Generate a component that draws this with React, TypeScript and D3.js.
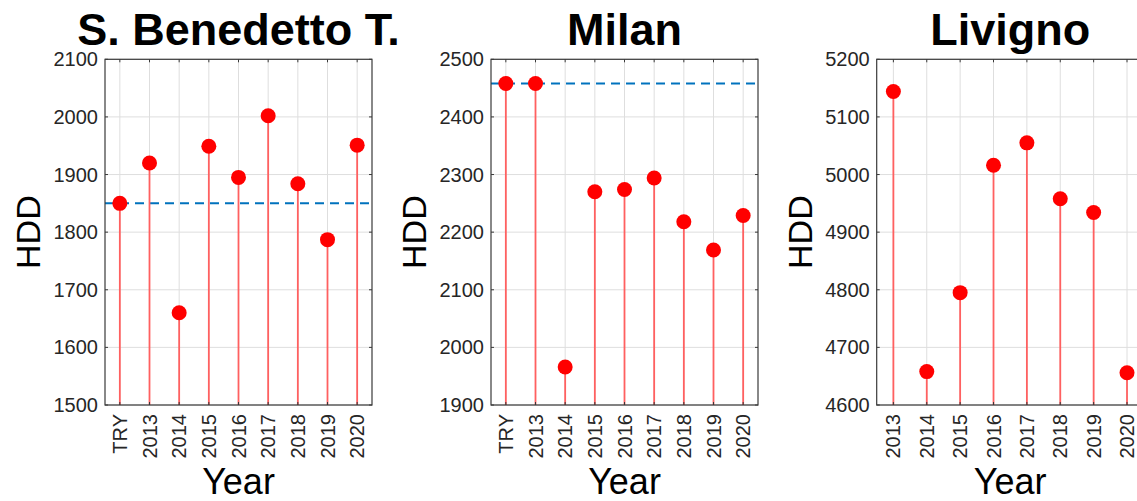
import * as React from "react";
import * as d3 from "d3";

// categories per panel
const catsWithTry = ["TRY", "2013", "2014", "2015", "2016", "2017", "2018", "2019", "2020"];
const catsYears = ["2013", "2014", "2015", "2016", "2017", "2018", "2019", "2020"];

// HDD values
const benedettoHdd = [1850, 1920, 1660, 1949, 1895, 2002, 1884, 1787, 1951];
const milanHdd = [2458, 2458, 1966, 2270, 2274, 2294, 2218, 2169, 2229];
const livignoHdd = [5144, 4658, 4795, 5016, 5055, 4958, 4934, 4656];

// y ticks per panel
const benedettoTicks = [1500, 1600, 1700, 1800, 1900, 2000, 2100];
const milanTicks = [1900, 2000, 2100, 2200, 2300, 2400, 2500];
const livignoTicks = [4600, 4700, 4800, 4900, 5000, 5100, 5200];

// TRY reference levels (dashed line)
const benedettoTry = 1850;
const milanTry = 2458;

const FONT = "Arial, 'Liberation Sans', Helvetica, sans-serif";

interface PanelProps {
  title: string;
  cats: string[];
  values: number[];
  ticks: number[];
  refLine?: number;
  left: number;
}

const top = 59.3;
const bottom = 405;
const plotW = 267;

const Panel: React.FC<PanelProps> = ({ title, cats, values, ticks, refLine, left }) => {
  const right = left + plotW;
  const x = d3
    .scaleLinear()
    .domain([0.5, cats.length + 0.5])
    .range([left, right]);
  const y = d3
    .scaleLinear()
    .domain([ticks[0], ticks[ticks.length - 1]])
    .range([bottom, top]);
  const cx = (left + right) / 2;
  const axisColor = "#3a3a3a";

  return (
    <g fontFamily={FONT}>
      {/* grid */}
      <g stroke="#dedede" strokeWidth={1}>
        {ticks.map((t) => (
          <line key={"gy" + t} x1={left} x2={right} y1={y(t)} y2={y(t)} />
        ))}
        {cats.map((c, i) => (
          <line key={"gx" + c} x1={x(i + 1)} x2={x(i + 1)} y1={top} y2={bottom} />
        ))}
      </g>
      {/* reference dashed line */}
      {refLine !== undefined && (
        <line
          x1={left}
          x2={right}
          y1={y(refLine)}
          y2={y(refLine)}
          stroke="#0072bd"
          strokeWidth={2}
          strokeDasharray="9,6"
        />
      )}
      {/* stems */}
      <g stroke="#ff6060" strokeWidth={1.8}>
        {values.map((v, i) => (
          <line key={"s" + i} x1={x(i + 1)} x2={x(i + 1)} y1={y(ticks[0])} y2={y(v)} />
        ))}
      </g>
      <g fill="#ff0000">
        {values.map((v, i) => (
          <circle key={"c" + i} cx={x(i + 1)} cy={y(v)} r={7.5} />
        ))}
      </g>
      {/* box */}
      <rect
        x={left}
        y={top}
        width={plotW}
        height={bottom - top}
        fill="none"
        stroke={axisColor}
        strokeWidth={1.2}
      />
      {/* ticks */}
      <g stroke={axisColor} strokeWidth={1}>
        {ticks.map((t) => (
          <g key={"t" + t}>
            <line x1={left} x2={left + 3} y1={y(t)} y2={y(t)} />
            <line x1={right} x2={right - 3} y1={y(t)} y2={y(t)} />
          </g>
        ))}
        {cats.map((c, i) => (
          <g key={"tx" + c}>
            <line x1={x(i + 1)} x2={x(i + 1)} y1={bottom} y2={bottom - 3} />
            <line x1={x(i + 1)} x2={x(i + 1)} y1={top} y2={top + 3} />
          </g>
        ))}
      </g>
      {/* y tick labels */}
      <g fontSize={20} fill="#262626" textAnchor="end">
        {ticks.map((t) => (
          <text key={"yl" + t} x={left - 7} y={y(t)} dy="0.35em">
            {t}
          </text>
        ))}
      </g>
      {/* x tick labels */}
      <g fontSize={20} fill="#262626" textAnchor="end">
        {cats.map((c, i) => (
          <text
            key={"xl" + c}
            transform={`translate(${x(i + 1)},${bottom + 9}) rotate(-90)`}
            dy="0.35em"
          >
            {c}
          </text>
        ))}
      </g>
      {/* title */}
      <text x={cx} y={45} textAnchor="middle" fontSize={45} fontWeight="bold" fill="#000">
        {title}
      </text>
      {/* axis labels */}
      <text
        transform={`translate(${left - 65},${(top + bottom) / 2}) rotate(-90)`}
        textAnchor="middle"
        fontSize={34}
        fill="#000"
      >
        HDD
      </text>
      <text x={cx} y={494} textAnchor="middle" fontSize={36} fill="#000">
        Year
      </text>
    </g>
  );
};

export default function App() {
  return (
    <svg
      width={1137}
      height={501}
      style={{ position: "absolute", left: 0, top: 0, background: "#fff" }}
    >
      <rect width={1137} height={501} fill="#fff" />
      <Panel
        title="S. Benedetto T."
        cats={catsWithTry}
        values={benedettoHdd}
        ticks={benedettoTicks}
        refLine={benedettoTry}
        left={105}
      />
      <Panel
        title="Milan"
        cats={catsWithTry}
        values={milanHdd}
        ticks={milanTicks}
        refLine={milanTry}
        left={491}
      />
      <Panel
        title="Livigno"
        cats={catsYears}
        values={livignoHdd}
        ticks={livignoTicks}
        left={876.7}
      />
    </svg>
  );
}
